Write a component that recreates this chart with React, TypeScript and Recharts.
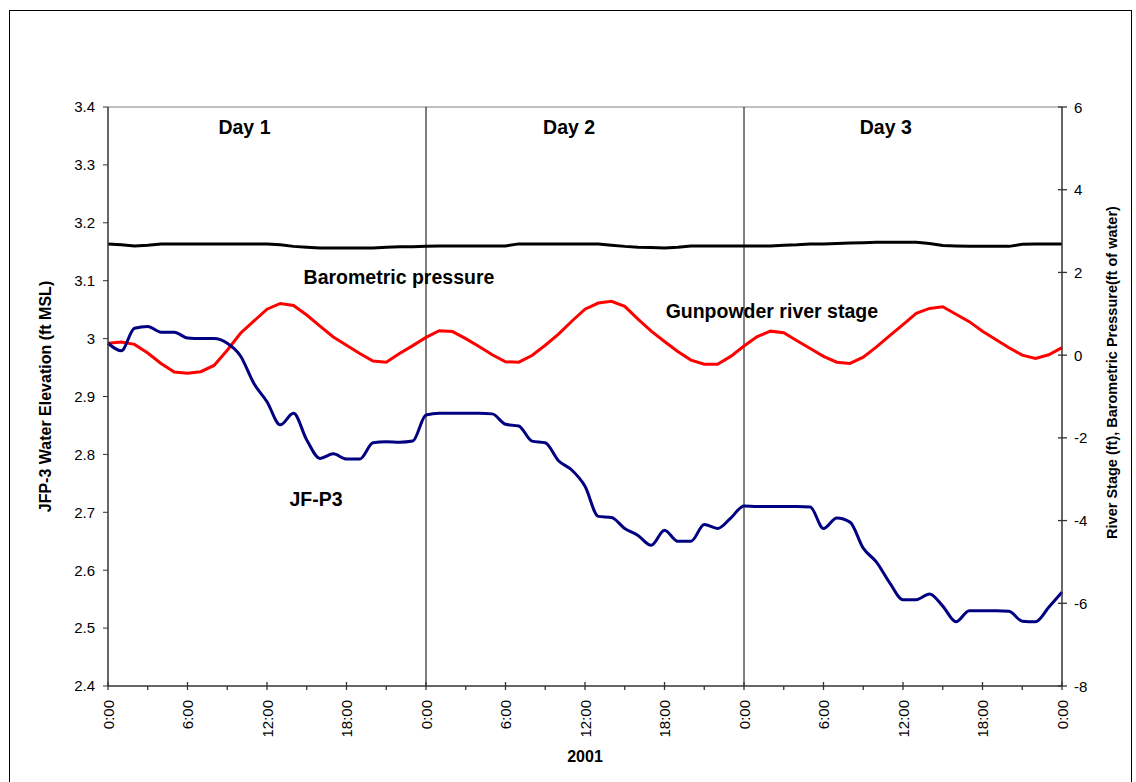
import { LineChart, Line, XAxis, YAxis, ReferenceLine, ReferenceDot } from 'recharts'

const FONT = '"Liberation Sans", Arial, sans-serif'

// hours since 0:00 of day 1
const hours = Array.from({ length: 73 }, (_, i) => i)

// JF-P3 water elevation (ft MSL), left axis
const jfp3 = [
  2.992, 2.979, 3.018, 3.021, 3.011, 3.011, 3.001, 3.0, 3.0, 2.992,
  2.97, 2.923, 2.891, 2.851, 2.871, 2.825, 2.793, 2.801, 2.792, 2.792,
  2.82, 2.822, 2.821, 2.823, 2.868, 2.871, 2.871, 2.871, 2.871, 2.87,
  2.852, 2.849, 2.823, 2.82, 2.789, 2.773, 2.745, 2.693, 2.691, 2.672,
  2.66, 2.643, 2.669, 2.65, 2.65, 2.679, 2.672, 2.69, 2.711, 2.71,
  2.71, 2.71, 2.71, 2.709, 2.672, 2.69, 2.683, 2.638, 2.614, 2.578,
  2.549, 2.549, 2.559, 2.538, 2.511, 2.53, 2.53, 2.53, 2.529, 2.512,
  2.511, 2.536, 2.562,
]

// Gunpowder river stage (ft), right axis
const riverStage = [
  0.29, 0.32, 0.26, 0.05, -0.2, -0.41, -0.44, -0.4, -0.25, 0.12,
  0.53, 0.82, 1.11, 1.25, 1.2, 0.97, 0.7, 0.44, 0.24, 0.04,
  -0.14, -0.17, 0.04, 0.23, 0.43, 0.59, 0.57, 0.4, 0.21, 0.01,
  -0.16, -0.17, -0.01, 0.24, 0.51, 0.82, 1.11, 1.26, 1.3, 1.18,
  0.87, 0.58, 0.33, 0.09, -0.12, -0.22, -0.22, -0.03, 0.22, 0.45,
  0.58, 0.54, 0.35, 0.16, -0.03, -0.17, -0.2, -0.05, 0.2, 0.47,
  0.74, 1.01, 1.13, 1.17, 0.99, 0.81, 0.58, 0.38, 0.18, 0.0,
  -0.08, 0.01, 0.18,
]

// Barometric pressure (ft of water), right axis
const barometric = [
  2.69, 2.67, 2.64, 2.66, 2.69, 2.69, 2.69, 2.69, 2.69, 2.69,
  2.69, 2.69, 2.69, 2.67, 2.63, 2.61, 2.59, 2.59, 2.59, 2.59,
  2.59, 2.61, 2.62, 2.62, 2.63, 2.64, 2.64, 2.64, 2.64, 2.64,
  2.64, 2.69, 2.69, 2.69, 2.69, 2.69, 2.69, 2.69, 2.66, 2.63,
  2.61, 2.6, 2.59, 2.61, 2.64, 2.64, 2.64, 2.64, 2.64, 2.64,
  2.64, 2.66, 2.67, 2.69, 2.69, 2.7, 2.71, 2.72, 2.73, 2.73,
  2.73, 2.73, 2.7, 2.65, 2.64, 2.63, 2.63, 2.63, 2.63, 2.68,
  2.69, 2.69, 2.69,
]

const xTicks = [0, 3, 6, 9, 12, 15, 18, 21, 24, 27, 30, 33, 36, 39, 42, 45, 48, 51, 54, 57, 60, 63, 66, 69, 72]
const leftTicks = [2.4, 2.5, 2.6, 2.7, 2.8, 2.9, 3, 3.1, 3.2, 3.3, 3.4]
const rightTicks = [-8, -6, -4, -2, 0, 2, 4, 6]
const dayBoundaries = [24, 48]

const dayLabels = ['Day 1', 'Day 2', 'Day 3']
const dayLabelHours = [10.3, 34.8, 58.7]

const noteTexts = ['Barometric pressure', 'Gunpowder river stage', 'JF-P3']
const noteHours = [21.96, 50.1, 15.7]
const noteValues = [3.107, 3.048, 2.723]

const data = hours.map((h, i) => ({
  hour: h,
  jfp3: jfp3[i],
  river: riverStage[i],
  baro: barometric[i],
}))

function HourTick({ x, y, payload }: any) {
  const h = payload.value
  const major = h % 6 === 0
  const ty = y + 14
  return (
    <g>
      <line x1={x} x2={x} y1={major ? y - 4 : y} y2={y + 4} stroke="#333" strokeWidth={1.3} />
      {major && (
        <text
          x={x}
          y={ty}
          transform={`rotate(-90, ${x}, ${ty})`}
          textAnchor="end"
          dominantBaseline="central"
          fontSize={15}
          fontFamily={FONT}
          fill="#000"
        >
          {`${h % 24}:00`}
        </text>
      )}
    </g>
  )
}

function RightTick({ x, y, payload }: any) {
  return (
    <g>
      <line x1={x - 4} x2={x + 5} y1={y} y2={y} stroke="#333" strokeWidth={1.3} />
      <text x={x + 12} y={y} dominantBaseline="central" fontSize={15} fontFamily={FONT} fill="#000">
        {payload.value}
      </text>
    </g>
  )
}

// right axis title sits a bit above the middle of the axis, like the original
function RightTitle({ viewBox }: any) {
  const cx = viewBox ? viewBox.x + 50 : 1112
  const cy = viewBox ? viewBox.y + viewBox.height / 2 - 24 : 372
  return (
    <text
      x={cx}
      y={cy}
      transform={`rotate(-90, ${cx}, ${cy})`}
      textAnchor="middle"
      dominantBaseline="central"
      fontSize={14.5}
      fontWeight="bold"
      fontFamily={FONT}
      fill="#000"
    >
      River Stage (ft), Barometric Pressure(ft of water)
    </text>
  )
}

const noteStyle = { fontSize: 19.5, fontWeight: 'bold', fill: '#000', fontFamily: FONT }

export default function App() {
  return (
    <div style={{ position: 'absolute', left: 0, top: 0, width: 1136, height: 782, background: '#fff', overflow: 'hidden' }}>
      <div
        style={{
          position: 'absolute',
          left: 9,
          top: 10,
          width: 1123,
          height: 800,
          border: '1px solid #000',
          boxSizing: 'border-box',
        }}
      />
      <div style={{ position: 'absolute', left: 0, top: 0 }}>
        <LineChart width={1136} height={782} data={data} margin={{ top: 107, right: 0, bottom: 0, left: 0 }}>
          <XAxis
            dataKey="hour"
            type="number"
            domain={[0, 72]}
            ticks={xTicks}
            interval={0}
            height={96}
            tickSize={0}
            tickMargin={0}
            tickLine={false}
            axisLine={{ stroke: '#333', strokeWidth: 1.5 }}
            tick={<HourTick />}
            label={{
              value: '2001',
              position: 'insideBottom',
              offset: 20,
              fontSize: 16,
              fontWeight: 'bold',
              fill: '#000',
              fontFamily: FONT,
            }}
          />
          <YAxis
            yAxisId="left"
            orientation="left"
            width={108}
            domain={[2.4, 3.4]}
            ticks={leftTicks}
            interval={0}
            tickSize={5}
            tickMargin={8}
            tickLine={{ stroke: '#333' }}
            axisLine={{ stroke: '#333', strokeWidth: 1.5 }}
            tick={{ fontSize: 15, fill: '#000', fontFamily: FONT }}
            label={{
              value: 'JFP-3 Water Elevation (ft MSL)',
              angle: -90,
              position: 'insideLeft',
              offset: 45,
              fontSize: 16,
              fontWeight: 'bold',
              fill: '#000',
              fontFamily: FONT,
              style: { textAnchor: 'middle' },
            }}
          />
          <YAxis
            yAxisId="right"
            orientation="right"
            width={74}
            domain={[-8, 6]}
            ticks={rightTicks}
            interval={0}
            tickSize={0}
            tickMargin={0}
            tickLine={false}
            axisLine={{ stroke: '#333', strokeWidth: 1.5 }}
            tick={<RightTick />}
            label={<RightTitle />}
          />

          {/* plot area top border */}
          <ReferenceLine yAxisId="left" y={3.4} stroke="#808080" strokeWidth={1} />

          {dayBoundaries.map((d) => (
            <ReferenceLine key={d} yAxisId="left" x={d} stroke="#000" strokeWidth={1} />
          ))}

          <Line
            yAxisId="right"
            type="linear"
            dataKey="baro"
            stroke="#000"
            strokeWidth={3}
            dot={false}
            isAnimationActive={false}
          />
          <Line
            yAxisId="right"
            type="linear"
            dataKey="river"
            stroke="#ff0000"
            strokeWidth={3}
            dot={false}
            isAnimationActive={false}
          />
          <Line
            yAxisId="left"
            type="monotone"
            dataKey="jfp3"
            stroke="#000080"
            strokeWidth={3}
            dot={false}
            isAnimationActive={false}
          />

          {dayLabels.map((t, i) => (
            <ReferenceDot
              key={t}
              yAxisId="left"
              x={dayLabelHours[i]}
              y={3.365}
              r={0}
              fill="none"
              stroke="none"
              label={{ value: t, position: 'center', ...noteStyle }}
            />
          ))}
          {noteTexts.map((t, i) => (
            <ReferenceDot
              key={t}
              yAxisId="left"
              x={noteHours[i]}
              y={noteValues[i]}
              r={0}
              fill="none"
              stroke="none"
              label={{ value: t, position: 'center', ...noteStyle }}
            />
          ))}
        </LineChart>
      </div>
    </div>
  )
}
